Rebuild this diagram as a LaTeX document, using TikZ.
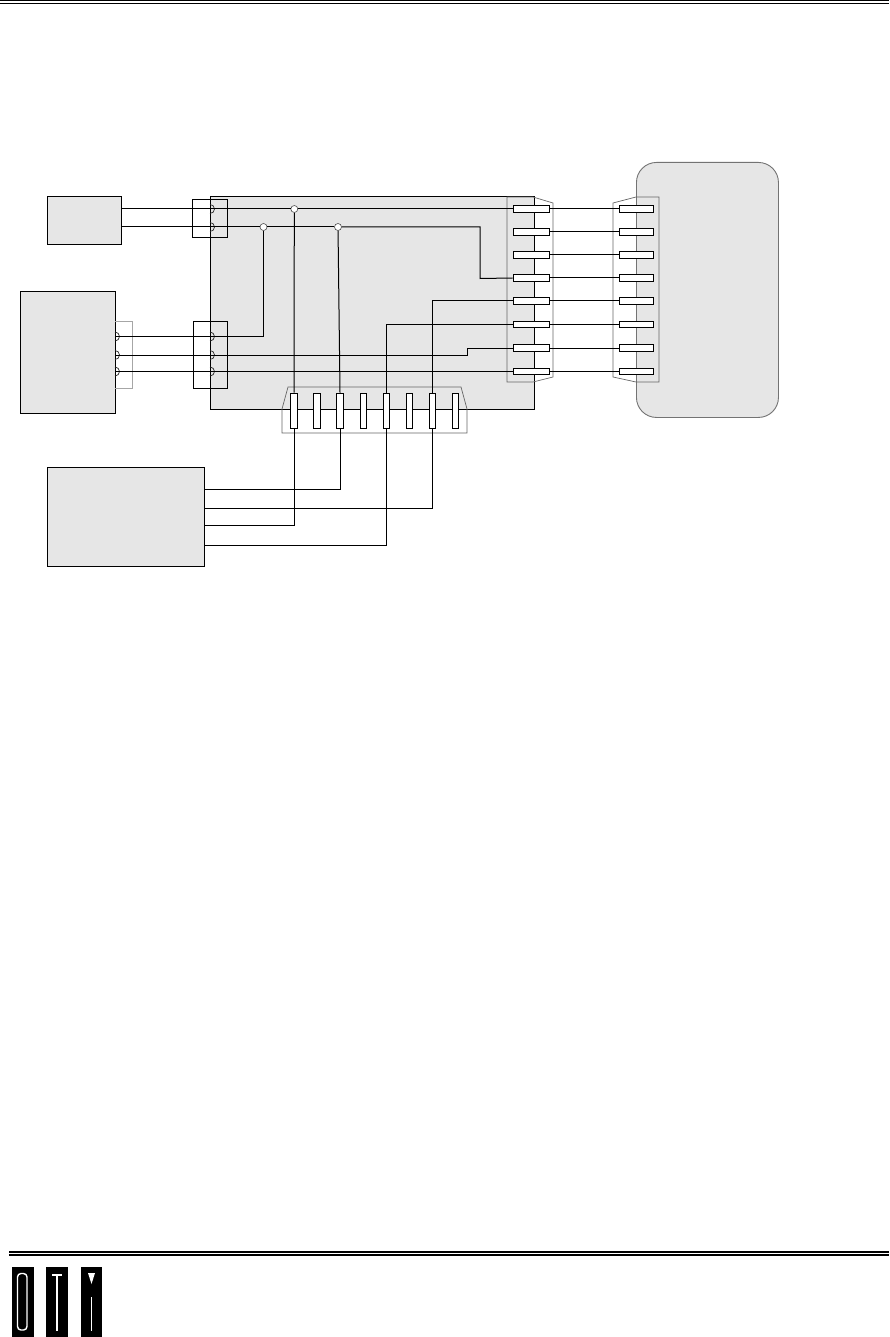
\documentclass[tikz,border=0pt]{standalone}
\usepackage{tikz}
\usetikzlibrary{calc}
\usetikzlibrary{positioning}
\definecolor{boardgray}{HTML}{E6E6E6}
\tikzstyle{unit}=[draw=black,fill=boardgray,line width=.9pt,inner sep=0pt,anchor=north west]
\tikzstyle{hpin}=[draw=black,fill=white,line width=.9pt,inner sep=0pt,minimum width=36pt,minimum height=6.5pt]
\tikzstyle{rpin}=[hpin,minimum width=34pt]
\tikzstyle{vpin}=[draw=black,fill=white,line width=.9pt,inner sep=0pt,minimum width=6.5pt,minimum height=35pt]
\tikzstyle{junction}=[circle,draw=black!70,fill=white,line width=.6pt,inner sep=0pt,minimum size=7pt]
\tikzstyle{shell}=[draw=black!60,line width=.7pt]
\tikzstyle{housing}=[draw=black,line width=.9pt]
\tikzstyle{socket}=[draw=black!85,line width=.7pt]
\tikzstyle{line}=[draw=black,line width=1pt]
\tikzstyle{rule}=[draw=black]
\tikzstyle{logobar}=[fill=black,draw=none,inner sep=0pt,anchor=north west,minimum width=22pt,minimum height=70pt]
\newcommand{\socketat}[1]{\draw[socket] ($(#1)+(0,-4.5)$) arc[start angle=-90,end angle=90,radius=4.5];}
\begin{document}
\begin{tikzpicture}[x=1pt,y=-1pt]

    \useasboundingbox (0,0) rectangle (889,1337);

    % page rules
    \coordinate (topa) at (0,1);
    \coordinate (topb) at (889,1);
    \coordinate (topc) at (0,3.5);
    \coordinate (topd) at (889,3.5);
    \draw[rule,line width=1pt] (topa) -- (topb);
    \draw[rule,line width=1.6pt] (topc) -- (topd);
    \coordinate (bota) at (9,1251.8);
    \coordinate (botb) at (889,1251.8);
    \coordinate (botc) at (9,1254.8);
    \coordinate (botd) at (889,1254.8);
    \draw[rule,line width=1.7pt] (bota) -- (botb);
    \draw[rule,line width=1.7pt] (botc) -- (botd);

    % units
    \node[unit,minimum width=74pt,minimum height=48pt] (power) at (47,196) {};
    \node[unit,minimum width=95pt,minimum height=122pt] (sensor) at (20,291) {};
    \node[unit,minimum width=324pt,minimum height=213pt] (board) at (210,196) {};
    \node[unit,minimum width=157pt,minimum height=99pt] (control) at (47,467) {};
    \node[unit,draw=black!55,rounded corners=20pt,minimum width=142pt,minimum height=255pt] (host) at (636,162) {};

    % connector shells
    \draw[shell] (507,197) -- (533,197) -- (553,203) -- (553,377) -- (533,382) -- (507,382) -- cycle;
    \draw[shell] (659,197) -- (636,197) -- (613,203) -- (613,377) -- (636,382) -- (659,382) -- cycle;
    \draw[shell] (288,387) -- (461,387) -- (467,409) -- (467,433) -- (282,433) -- (282,409) -- cycle;
    \draw[shell,draw=black!35] (115,321) -- (132,321) -- (132,388) -- (115,388);

    % housings on the board edge
    \node[housing,anchor=north west,minimum width=35pt,minimum height=38pt,inner sep=0pt] (hdrtop) at (192,199) {};
    \node[housing,anchor=north west,minimum width=34pt,minimum height=67pt,inner sep=0pt] (hdrlow) at (193,321) {};

    % sockets
    \coordinate (ssa) at (210,209);
    \coordinate (ssb) at (210,227);
    \coordinate (ssc) at (210,336.5);
    \coordinate (ssd) at (210,355);
    \coordinate (sse) at (210,371.5);
    \coordinate (bsa) at (115,336.5);
    \coordinate (bsb) at (115,355);
    \coordinate (bsc) at (115,371.5);
    \socketat{ssa}
    \socketat{ssb}
    \socketat{ssc}
    \socketat{ssd}
    \socketat{sse}
    \socketat{bsa}
    \socketat{bsb}
    \socketat{bsc}

    % board edge pins, right
    \node[hpin] (lpa) at (531,209) {};
    \node[hpin] (lpb) at (531,232) {};
    \node[hpin] (lpc) at (531,255) {};
    \node[hpin] (lpd) at (531,278) {};
    \node[hpin] (lpe) at (531,301) {};
    \node[hpin] (lpf) at (531,324.5) {};
    \node[hpin] (lpg) at (531,348) {};
    \node[hpin] (lph) at (531,371.5) {};

    % host pins
    \node[rpin] (rpa) at (636,209) {};
    \node[rpin] (rpb) at (636,232) {};
    \node[rpin] (rpc) at (636,255) {};
    \node[rpin] (rpd) at (636,278) {};
    \node[rpin] (rpe) at (636,301) {};
    \node[rpin] (rpf) at (636,324.5) {};
    \node[rpin] (rpg) at (636,348) {};
    \node[rpin] (rph) at (636,371.5) {};

    % board edge pins, bottom
    \node[vpin] (bpa) at (294,410.5) {};
    \node[vpin] (bpb) at (317,410.5) {};
    \node[vpin] (bpc) at (340,410.5) {};
    \node[vpin] (bpd) at (363.5,410.5) {};
    \node[vpin] (bpe) at (386.5,410.5) {};
    \node[vpin] (bpf) at (409.5,410.5) {};
    \node[vpin] (bpg) at (432.5,410.5) {};
    \node[vpin] (bph) at (455.5,410.5) {};

    % wire ends
    \coordinate (pwra) at (121,209);
    \coordinate (pwrb) at (121,227);
    \coordinate (ctla) at (204,489.5);
    \coordinate (ctlb) at (204,508);
    \coordinate (ctlc) at (204,525);
    \coordinate (ctld) at (204,545);
    \coordinate (bendd) at (480,278.5);
    \coordinate (bendg) at (467,348);

    % junctions
    \node[junction] (jcta) at (294.3,209) {};
    \node[junction] (jctb) at (263.5,227) {};
    \node[junction] (jctc) at (338,227) {};

    \draw[line] (pwra) -- (jcta);
    \draw[line] (jcta) -- (lpa);
    \draw[line] (pwrb) -- (jctb);
    \draw[line] (jctb) -- (jctc);
    \draw[line] (jctc) -| (bendd) -- (lpd.west);
    \draw[line] (jctb) |- (ssc);
    \draw[line] (bsa) -- (ssc);
    \draw[line] (bsb) -| (bendg) -- (lpg.west);
    \draw[line] (bsc) -- (lph.west);
    \draw[line] (jcta) -- (bpa);
    \draw[line] (jctc) -- (bpc.north);
    \draw[line] (bpa.south) |- (ctlc);
    \draw[line] (bpc.south) |- (ctla);
    \draw[line] (bpg.south) |- (ctlb);
    \draw[line] (bpe.south) |- (ctld);
    \draw[line] (lpe.west) -| (bpg.north);
    \draw[line] (lpf.west) -| (bpe.north);

    \draw[line] (lpa) -- (rpa);
    \draw[line] (lpb) -- (rpb);
    \draw[line] (lpc) -- (rpc);
    \draw[line] (lpd) -- (rpd);
    \draw[line] (lpe) -- (rpe);
    \draw[line] (lpf) -- (rpf);
    \draw[line] (lpg) -- (rpg);
    \draw[line] (lph) -- (rph);

    % logo
    \node[logobar] (logoo) at (12,1267) {};
    \node[logobar] (logot) at (46,1267) {};
    \node[logobar,minimum width=21pt] (logoi) at (81,1267) {};
    \draw[white,line width=1.4pt,rounded corners=3.5pt] (17.5,1273.5) rectangle (27,1330);
    \draw[white,line width=1.4pt] (52,1275) -- (62,1275);
    \draw[white,line width=1.4pt] (57,1275) -- (57,1331);
    \fill[white] (88,1273) -- (95,1273) -- (91.5,1284) -- cycle;
    \draw[white,line width=1.4pt] (91.5,1297) -- (91.5,1331);

\end{tikzpicture}
\end{document}
